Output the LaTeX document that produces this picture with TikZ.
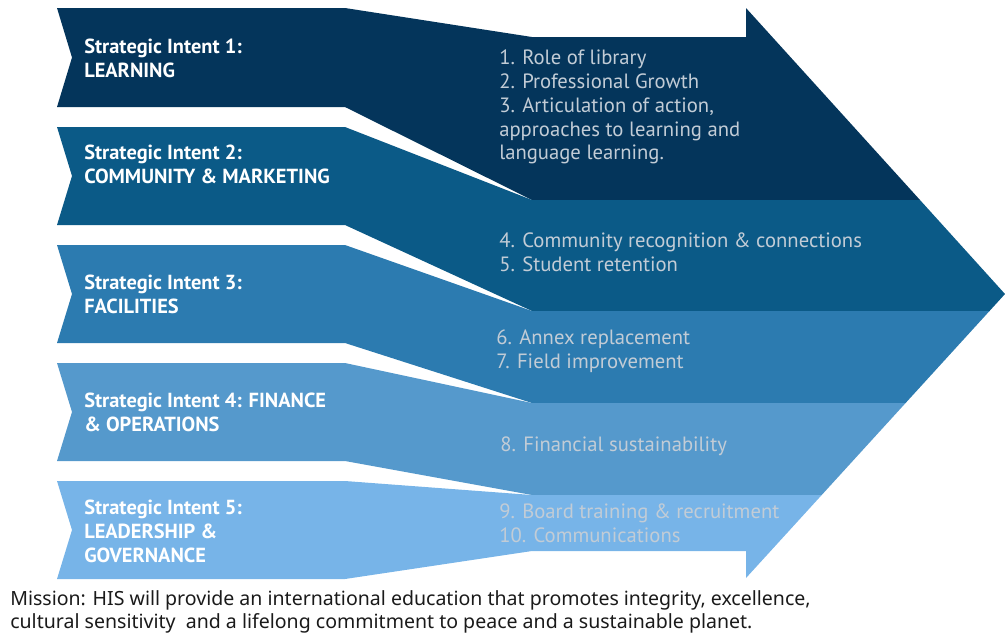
\documentclass[tikz,border=0pt]{standalone}
\usepackage{fontspec}
\setmainfont{PT Sans}
\newfontfamily\missionfont{Noto Sans}
\definecolor{intentA}{HTML}{04355B}
\definecolor{intentB}{HTML}{0B5A87}
\definecolor{intentC}{HTML}{2C7BB0}
\definecolor{intentD}{HTML}{5599CC}
\definecolor{intentE}{HTML}{77B4E8}
\definecolor{goaltext}{HTML}{C2CCD6}
\definecolor{missiontext}{HTML}{1A1A1A}

\begin{document}
\begin{tikzpicture}[x=0.025cm,y=-0.025cm,
	intent/.style={anchor=west,align=left,inner sep=0pt,text=white,font=\bfseries\fontsize{14.5}{17}\selectfont},
	goal/.style={anchor=west,align=left,inner sep=0pt,text=goaltext,font=\fontsize{14.7}{17}\selectfont},
	mission/.style={anchor=west,align=left,inner sep=0pt,text=missiontext,font=\missionfont\fontsize{13.9}{16.4}\selectfont}]
		\useasboundingbox (0,0) rectangle (1005,634);
		
		\fill[intentA] (57,8) -- (345,8) -- (532,37) -- (746,37) -- (746,8) -- (920,200) -- (532,200) -- (345,107) -- (57,107) -- (72,57.5) -- cycle;
		\fill[intentB] (57,127) -- (345,127) -- (532,200) -- (920,200) -- (1005,294) -- (989.5,311) -- (532,311) -- (345,225) -- (57,225) -- (72,176) -- cycle;
		\fill[intentC] (57,245) -- (345,245) -- (532,311) -- (989.5,311) -- (905.6,403) -- (532,403) -- (345,343) -- (57,343) -- (72,294) -- cycle;
		\fill[intentD] (57,363) -- (345,363) -- (532,403) -- (905.6,403) -- (821.7,495) -- (532,495) -- (345,461) -- (57,461) -- (72,412) -- cycle;
		\fill[intentE] (57,481) -- (345,481) -- (532,495) -- (821.7,495) -- (746,578) -- (746,551) -- (532,551) -- (345,579) -- (57,579) -- (72,530) -- cycle;
		
		\node[intent] (si1) at (84,58) {Strategic Intent 1:\\LEARNING};
		\node[intent] (si2) at (84,164) {Strategic Intent 2:\\COMMUNITY \& MARKETING};
		\node[intent] (si3) at (84,294) {Strategic Intent 3:\\FACILITIES};
		\node[intent] (si4) at (84,412) {Strategic Intent 4: FINANCE\\\& OPERATIONS};
		\node[intent] (si5) at (84,531) {Strategic Intent 5:\\LEADERSHIP \&\\GOVERNANCE};
		
		\node[goal] (g1) at (499,107) {1. Role of library\\2. Professional Growth\\3. Articulation of action,\\approaches to learning and\\language learning.};
		\node[goal] (g2) at (499,252) {4. Community recognition \& connections\\5. Student retention};
		\node[goal] (g3) at (496,351) {6. Annex replacement\\7. Field improvement};
		\node[goal] (g4) at (500,446) {8. Financial sustainability};
		\node[goal] (g5) at (499,523) {9. Board training \& recruitment\\10. Communications};
		
		\node[mission] (mission) at (10,611.5) {Mission: HIS will provide an international education that promotes integrity, excellence,\\cultural sensitivity\ \ and a lifelong commitment to peace and a sustainable planet.};
	\end{tikzpicture}
\end{document}
